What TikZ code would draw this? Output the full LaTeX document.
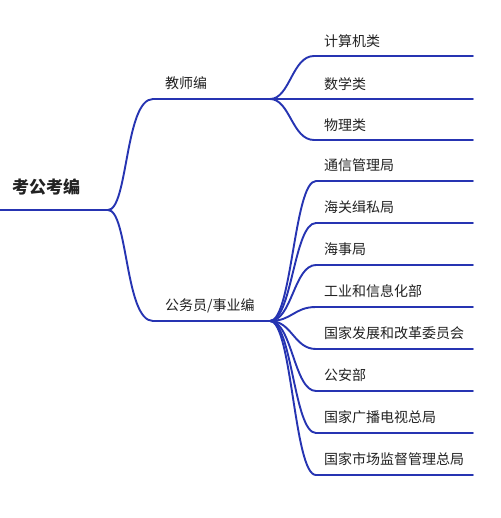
\documentclass[tikz,border=0pt]{standalone}
\usepackage{fontspec}
\newfontfamily\cjk{Noto Sans CJK SC}
\definecolor{branch}{RGB}{38,52,178}
\definecolor{txt}{RGB}{34,34,34}
\begin{document}
\begin{tikzpicture}[x=1pt,y=-1pt,
  link/.style={draw=branch,line width=1.9pt,line cap=round},
  lbl/.style={anchor=west,inner sep=0pt,text=txt,font=\cjk\fontsize{14}{14}\selectfont},
  rootlbl/.style={anchor=west,inner sep=0pt,text=txt,font=\cjk\bfseries\fontsize{17}{17}\selectfont}]
\useasboundingbox (0,0) rectangle (500,518);
\fill[white] (0,0) rectangle (500,518);
% root
\node[rootlbl] (root) at (12,187) {考公考编};
\coordinate (r0) at (0,210);
\coordinate (rh) at (108,210);
\draw[link] (r0) -- (rh);
% teacher branch
\node[lbl] (teach) at (165,83) {教师编};
\coordinate (t0) at (153,99);
\coordinate (th) at (270,99);
\draw[link] (rh) .. controls (128,210) and (125,99) .. (t0) -- (th);
% govt branch
\node[lbl] (gov) at (165,306) {公务员/事业编};
\coordinate (g0) at (153,321);
\coordinate (gh) at (270,321);
\draw[link] (rh) .. controls (128,210) and (125,321) .. (g0) -- (gh);
% teacher children
\foreach \name/\txt/\y in {c1/计算机类/56, c2/数学类/99, c3/物理类/140}{
  \node[lbl] (\name) at (324,\y-15) {\txt};
  \coordinate (\name s) at (314,\y);
  \coordinate (\name e) at (473,\y);
  \draw[link] (th) .. controls (290,99) and (292,\y) .. (\name s) -- (\name e);
}
% govt children
\foreach \name/\txt/\y in {d1/通信管理局/181, d2/海关缉私局/223, d3/海事局/265, d4/工业和信息化部/307, d5/国家发展和改革委员会/349, d6/公安部/391, d7/国家广播电视总局/433, d8/国家市场监督管理总局/475}{
  \node[lbl] (\name) at (324,\y-16) {\txt};
  \coordinate (\name s) at (316,\y);
  \coordinate (\name e) at (473,\y);
  \draw[link] (gh) .. controls (292,321) and (294,\y) .. (\name s) -- (\name e);
}
\end{tikzpicture}
\end{document}
